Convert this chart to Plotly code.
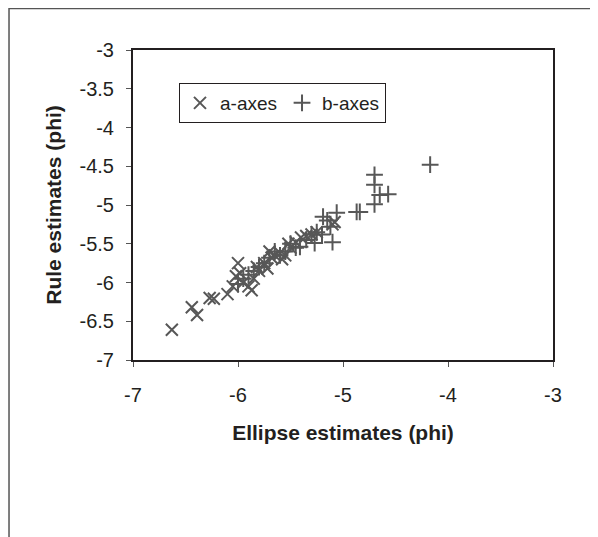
import plotly.graph_objects as go

# a-axes (x marks)
a_x = [-6.63, -6.44, -6.39, -6.27, -6.23, -6.10, -6.05, -6.02, -6.00, -5.98, -5.95, -5.90,
       -5.87, -5.85, -5.82, -5.80, -5.75, -5.72, -5.70, -5.68, -5.65, -5.60, -5.58, -5.55,
       -5.52, -5.50, -5.45, -5.40, -5.35, -5.30, -5.25, -5.10, -5.08]
a_y = [-6.61, -6.32, -6.42, -6.20, -6.21, -6.15, -6.05, -5.92, -5.75, -5.88, -6.00, -6.05,
       -6.10, -5.95, -5.80, -5.85, -5.75, -5.82, -5.60, -5.68, -5.65, -5.62, -5.70, -5.65,
       -5.50, -5.55, -5.48, -5.42, -5.40, -5.38, -5.35, -5.25, -5.22]

# b-axes (+ marks)
b_x = [-4.17, -4.70, -4.70, -4.65, -4.57, -4.70, -4.87, -4.84, -5.06, -5.19, -5.12, -5.10,
       -5.27, -5.20, -5.41, -5.35, -5.30, -5.45, -5.55, -5.60, -5.65, -5.70, -5.75, -5.80,
       -5.85, -5.90, -5.95, -6.00, -5.50, -5.25, -5.15]
b_y = [-4.48, -4.61, -4.74, -4.87, -4.86, -4.99, -5.09, -5.09, -5.10, -5.15, -5.28, -5.48,
       -5.49, -5.38, -5.54, -5.45, -5.38, -5.55, -5.60, -5.65, -5.60, -5.68, -5.75, -5.80,
       -5.85, -5.90, -5.95, -6.02, -5.50, -5.35, -5.20]

x_ticks = [-7, -6, -5, -4, -3]
y_ticks = [-3, -3.5, -4, -4.5, -5, -5.5, -6, -6.5, -7]

mark_color = "#575757"
font_family = "Liberation Sans, Arial, sans-serif"

fig = go.Figure()
fig.add_trace(go.Scatter(
    x=a_x, y=a_y, mode="markers", name="a-axes",
    marker=dict(symbol="x-thin", size=12, line=dict(color=mark_color, width=2), color=mark_color),
))
fig.add_trace(go.Scatter(
    x=b_x, y=b_y, mode="markers", name="b-axes",
    marker=dict(symbol="cross-thin", size=12, line=dict(color=mark_color, width=2), color=mark_color),
))

axis_common = dict(
    showgrid=False, zeroline=False,
    showline=True, linecolor="#231f20", linewidth=2, mirror=True,
    ticks="outside", ticklen=5, tickcolor="#555555", tickwidth=1,
    tickfont=dict(family=font_family, size=20, color="#231f20"),
)

fig.update_layout(
    width=590, height=529,
    margin=dict(l=125, r=45, t=42, b=177),
    paper_bgcolor="white", plot_bgcolor="white",
    font=dict(family=font_family, color="#231f20"),
    xaxis=dict(range=[-7, -3], tickvals=x_ticks, ticktext=[str(v) for v in x_ticks],
               ticklabelstandoff=11,
               title=dict(text="<b>Ellipse estimates (phi)</b>", font=dict(size=21), standoff=20),
               **axis_common),
    yaxis=dict(range=[-7, -3], tickvals=y_ticks, ticktext=[f"{v:g}" for v in y_ticks],
               ticklabelstandoff=8,
               title=dict(text="<b>Rule estimates (phi)</b>", font=dict(size=21), standoff=12),
               **axis_common),
    legend=dict(
        orientation="h", x=0.1095, y=0.8935, xanchor="left", yanchor="top",
        bordercolor="#231f20", borderwidth=1, bgcolor="white",
        font=dict(family=font_family, size=19, color="#231f20"),
        itemwidth=30, tracegroupgap=0,
    ),
    showlegend=True,
)

# outer chart-area frame (cropped)
fig.add_shape(type="rect", xref="paper", yref="paper",
              x0=-0.2952, y0=-2, x1=2, y1=1.1339,
              line=dict(color="#555555", width=1.5), layer="below")

fig.write_html("out.html")
